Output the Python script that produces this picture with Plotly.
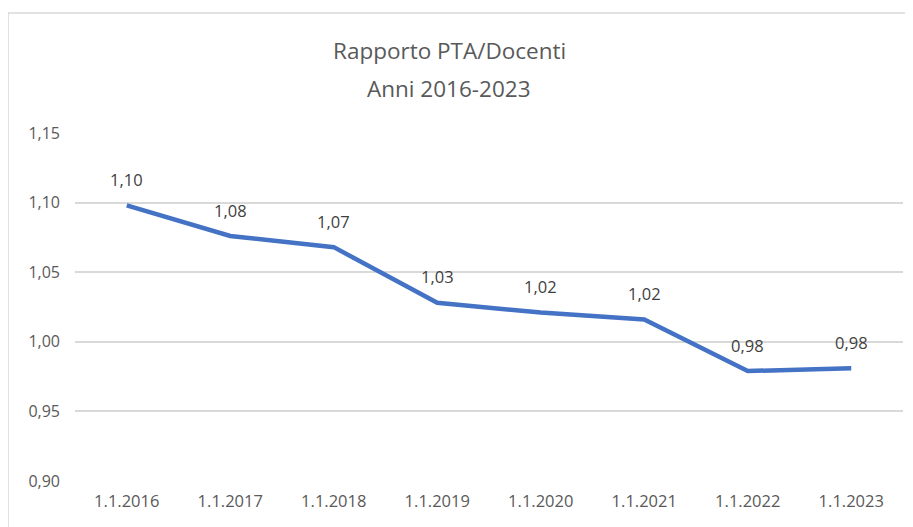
import plotly.graph_objects as go

dates = ["1.1.2016", "1.1.2017", "1.1.2018", "1.1.2019",
         "1.1.2020", "1.1.2021", "1.1.2022", "1.1.2023"]
ratio = [1.098, 1.076, 1.068, 1.028, 1.021, 1.016, 0.979, 0.981]
labels = [f"{v:.2f}".replace(".", ",") for v in ratio]
yticks = [0.90, 0.95, 1.00, 1.05, 1.10, 1.15]
title_lines = ["Rapporto PTA/Docenti", "Anni 2016-2023"]

fig = go.Figure()
fig.add_trace(go.Scatter(
    x=dates, y=ratio, mode="lines",
    line=dict(color="#4472C4", width=4.5),
    hoverinfo="skip"
))

# data labels above each point
for d, v, t in zip(dates, ratio, labels):
    fig.add_annotation(x=d, y=v, text=t, showarrow=False,
                       yanchor="middle", yshift=26,
                       font=dict(size=16.5, color="#404040"))

# title, two lines with wider spacing
for yy, t in zip([1.2385, 1.129], title_lines):
    fig.add_annotation(x=0.4517, y=yy, xref="paper", yref="paper",
                       text=t, showarrow=False, yanchor="middle",
                       font=dict(size=22.5, color="#595959"))

fig.update_layout(
    width=905, height=519,
    margin=dict(l=67, r=10, t=125, b=46),
    paper_bgcolor="white", plot_bgcolor="white",
    font=dict(family="Open Sans", color="#595959"),
    showlegend=False,
    separators=",.",
)
fig.update_xaxes(type="category", range=[-0.5, len(dates) - 0.5],
                 showgrid=False, showline=False, ticks="",
                 ticklabelstandoff=8,
                 tickfont=dict(size=16.5, color="#595959"))
fig.update_yaxes(range=[0.90, 1.15], tickvals=yticks, tickformat=".2f",
                 showgrid=True, gridcolor="#D9D9D9", gridwidth=1.5,
                 zeroline=False, showline=False, ticks="",
                 ticklabelstandoff=14,
                 tickfont=dict(size=16, color="#595959"))

# outer chart border
fig.add_shape(type="rect", xref="paper", yref="paper",
              x0=-0.0809, y0=-0.3, x1=1.05, y1=1.345,
              line=dict(color="#D9D9D9", width=1.5))

fig.write_html("out.html")
